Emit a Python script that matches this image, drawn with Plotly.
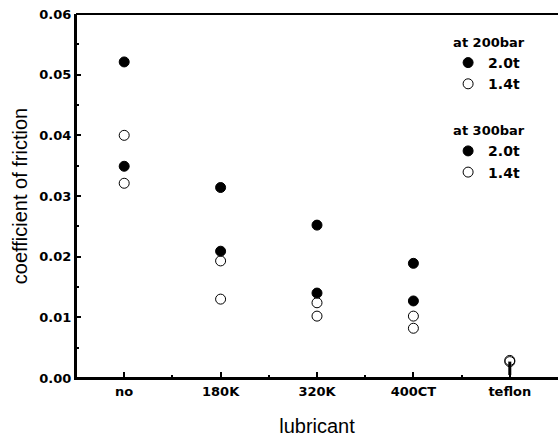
import plotly.graph_objects as go

categories = ["no", "180K", "320K", "400CT", "teflon"]
positions = [1, 2, 3, 4, 5]

bar200_20t = [0.0521, 0.0314, 0.0252, 0.0189, None]
bar200_14t = [0.0400, 0.0193, 0.0124, 0.0102, 0.0029]
bar300_20t = [0.0349, 0.0209, 0.0140, 0.0127, None]
bar300_14t = [0.0321, 0.0130, 0.0102, 0.0082, 0.0027]
bar300_14t_err_minus = [None, None, None, None, 0.0022]

y_ticks = [0.00, 0.01, 0.02, 0.03, 0.04, 0.05, 0.06]

FONT = "Liberation Sans, Arial, sans-serif"
BOLD = "DejaVu Sans, Verdana, sans-serif"
TITLE_FONT = dict(family=BOLD, size=13, color="black", weight="bold")

def series(name, group, title, y, symbol, err=None):
    tr = go.Scatter(
        x=positions, y=y, mode="markers", name=name,
        legendgroup=group,
        legendgrouptitle=dict(text=title, font=TITLE_FONT),
        marker=dict(symbol=symbol, size=10, color="black", line=dict(color="black", width=1)),
    )
    if err is not None:
        tr.error_y = dict(type="data", symmetric=False, array=[0] * len(err), arrayminus=err,
                          color="black", thickness=3, width=0)
    return tr

fig = go.Figure()
fig.add_trace(series("2.0t", "g200", "at 200bar", bar200_20t, "circle"))
fig.add_trace(series("1.4t", "g200", "at 200bar", bar200_14t, "circle-open"))
fig.add_trace(series("2.0t", "g300", "at 300bar", bar300_20t, "circle"))
fig.add_trace(series("1.4t", "g300", "at 300bar", bar300_14t, "circle-open", bar300_14t_err_minus))

# frame lines (left, bottom, top)
for x0, y0, x1, y1, w in [(0, 0, 0, 1, 2), (0, 0, 1, 0, 2), (0, 1, 1, 1, 2)]:
    fig.add_shape(type="line", xref="paper", yref="paper", x0=x0, y0=y0, x1=x1, y1=y1,
                  line=dict(color="black", width=w), layer="above")

fig.update_layout(
    width=558, height=438,
    margin=dict(l=76, r=0, t=14, b=60),
    paper_bgcolor="white", plot_bgcolor="white",
    font=dict(family=FONT, color="black"),
    showlegend=True,
    legend=dict(
        x=0.772, y=0.964, xanchor="left", yanchor="top",
        bgcolor="rgba(0,0,0,0)", borderwidth=0,
        font=dict(family=BOLD, size=14, color="black", weight="bold"),
        tracegroupgap=26, itemclick=False,
    ),
    xaxis=dict(
        range=[0.5, 5.5], tickmode="array", tickvals=positions, ticktext=categories,
        automargin=False, ticklabeloverflow="allow",
        showgrid=False, zeroline=False,
        showline=True, linecolor="black", linewidth=2,
        ticks="inside", ticklen=6, tickwidth=2, tickcolor="black",
        minor=dict(ticks="inside", ticklen=3, tickwidth=2, tickcolor="black", dtick=1, tick0=0.5),
        tickfont=dict(family=BOLD, size=13, color="black", weight="bold"),
        title=dict(text="lubricant", font=dict(family=FONT, size=20, color="black"), standoff=21),
    ),
    yaxis=dict(
        range=[0, 0.06], tickmode="array", tickvals=y_ticks, tickformat=".2f",
        automargin=False, ticklabeloverflow="allow",
        showgrid=False, zeroline=False,
        showline=True, linecolor="black", linewidth=2,
        ticks="inside", ticklen=5, tickwidth=2, tickcolor="black",
        minor=dict(ticks="inside", ticklen=3, tickwidth=2, tickcolor="black", dtick=0.005, tick0=0),
        tickfont=dict(family=BOLD, size=13, color="black", weight="bold"),
        title=dict(text="coefficient of friction", font=dict(family=FONT, size=20, color="black"), standoff=6),
    ),
)

fig.write_html(
    "out.html",
    config={"displayModeBar": False},
    post_script="document.body.style.margin='0';document.body.style.overflow='hidden';",
)
